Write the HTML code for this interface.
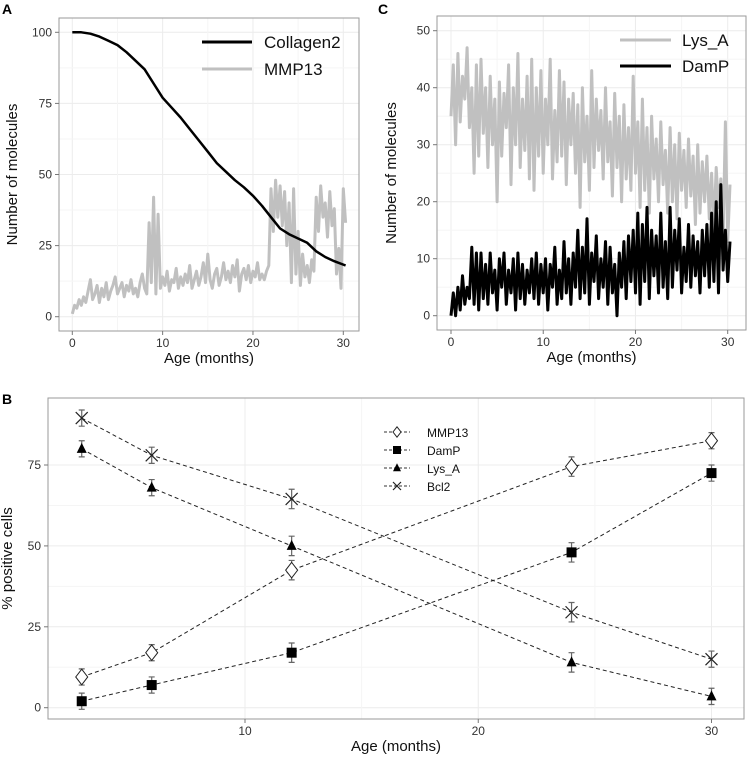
<!DOCTYPE html>
<html><head><meta charset="utf-8"><style>
html,body{margin:0;padding:0;background:#fff;}
svg{display:block;font-family:"Liberation Sans",sans-serif;}
</style></head><body>
<svg id="fig" width="750" height="760" viewBox="0 0 750 760" xmlns="http://www.w3.org/2000/svg"></svg>
<script>
// ---- Panel A data ----
const aCollagenX = [0,1,2,3,4,5,6,7,8,9,10,11,12,13,14,15,16,17,18,19,20,21,22,23,24,25,26,27,28,29,30.25];
const aCollagen = [100,100,99.5,98.5,97,95.5,93,90,87,82,77,73.5,70,66,62,58,54,51,48,45.5,42.5,39,35,31,29,27.5,26,23,21,19.5,18];
const aMMP13 = [1,4,3,6,4,7,5,9,13,6,8,11, 5,10,7,12,6,9,11,14,8,10,12,7, 11,9,13,8,10,7,12,15,10,8,33,12,
 42,8,36,10,14,11,16,9,13,12,17,10, 14,11,15,12,18,10,13,16,11,14,19,12, 22,13,10,15,17,11,14,19,13,16,12,18,
 14,20,9,15,17,13,18,12,16,14,19,13, 15,13,16,18,45,30,48,35,46,32,44,25, 40,12,45,15,30,11,22,14,18,12,20,16,
 42,30,46,35,40,28,44,32,38,15,24,10, 45,33];
// ---- Panel C data ----
const cLysA = [35,44,30,46,34,42,38,47,33,40,25,44, 28,45,32,40,26,42,30,38,20,41,28,39, 33,44,23,40,30,46,26,38,29,42,24,45,
 22,40,28,43,25,38,30,45,24,36,27,43, 28,41,23,38,30,39,25,37,19,40,27,35, 22,43,26,38,29,36,24,40,27,34,21,39,
 26,35,20,37,24,33,22,42,25,34,19,38, 22,33,18,35,24,31,20,34,23,29,18,33, 20,30,17,32,22,29,19,31,21,28,16,30,
 18,27,20,28,17,25,15,26,19,24,14,34, 13,23];
const cDamP = [0,4,0,5,1,7,2,5,3,12,2,11, 1,11,3,9,2,11,4,8,1,10,5,11, 2,8,4,10,1,11,3,9,2,8,4,10,
 3,11,2,9,4,10,1,9,5,12,2,8, 3,13,4,10,2,11,5,15,3,12,4,17, 2,11,6,14,3,10,5,13,2,12,4,9,
 0,11,5,13,3,14,6,15,4,18,2,16, 6,19,3,15,7,14,4,18,5,13,3,19, 5,15,8,17,4,12,6,16,5,14,7,13,
 4,15,7,16,5,18,6,20,4,23,8,15, 6,13];
const timeStep = 0.25;
// ---- Panel B data ----
const bAges = [3,6,12,24,30];
const bMMP13 = [9.5,17,42.5,74.5,82.5];
const bDamP = [2,7,17,48,72.5];
const bLysA = [80,68,50,14,3.5];
const bBcl2 = [89.5,78,64.5,29.5,15];
const bErr = [2.5,2.5,3,3,2.5];
const tickA_y = [0,25,50,75,100];
const tickC_y = [0,10,20,30,40,50];
const tickAC_x = [0,10,20,30];
const tickB_y = [0,25,50,75];
const tickB_x = [10,20,30];

const NS = "http://www.w3.org/2000/svg";
const svg = document.getElementById('fig');
function mk(tag, attrs, parent){
  const e = document.createElementNS(NS, tag);
  for (const k in attrs) e.setAttribute(k, attrs[k]);
  (parent||svg).appendChild(e);
  return e;
}
function lin(d0,d1,r0,r1){ return v => r0 + (v-d0)*(r1-r0)/(d1-d0); }

function panel(cfg){
  const g = mk('g', {});
  
  
  const x = cfg.x, y = cfg.y;
  cfg.xticks.forEach(t=>{ mk('line',{x1:x(t),x2:x(t),y1:cfg.top,y2:cfg.bottom,stroke:'#ececec','stroke-width':1},g); });
  cfg.yticks.forEach(t=>{ mk('line',{x1:cfg.left,x2:cfg.right,y1:y(t),y2:y(t),stroke:'#ececec','stroke-width':1},g); });
  for(let i=0;i<cfg.xticks.length-1;i++){const m=(cfg.xticks[i]+cfg.xticks[i+1])/2; mk('line',{x1:x(m),x2:x(m),y1:cfg.top,y2:cfg.bottom,stroke:'#f5f5f5'},g);}
  for(let i=0;i<cfg.yticks.length-1;i++){const m=(cfg.yticks[i]+cfg.yticks[i+1])/2; mk('line',{x1:cfg.left,x2:cfg.right,y1:y(m),y2:y(m),stroke:'#f5f5f5'},g);}
  const box = mk('rect',{x:cfg.left,y:cfg.top,width:cfg.right-cfg.left,height:cfg.bottom-cfg.top,fill:'none',stroke:'#9a9a9a','stroke-width':1},g);
  
  
  cfg.xticks.forEach(t=>{
    mk('line',{x1:x(t),x2:x(t),y1:cfg.bottom,y2:cfg.bottom+4,stroke:'#777'},g);
    const tx = mk('text',{x:x(t),y:cfg.bottom+16,'text-anchor':'middle','font-size':12,fill:'#333'},g);
    tx.textContent = t;
    
    
  });
  cfg.yticks.forEach(t=>{
    mk('line',{x1:cfg.left-4,x2:cfg.left,y1:y(t),y2:y(t),stroke:'#777'},g);
    const tx = mk('text',{x:cfg.left-7,y:y(t)+4,'text-anchor':'end','font-size':12,fill:'#333'},g);
    tx.textContent = t;
    
    
  });
  const xl = mk('text',{x:(cfg.left+cfg.right)/2,y:cfg.bottom+32,'text-anchor':'middle','font-size':15,fill:'#111'},g);
  xl.textContent = 'Age (months)';
  
  
  const cy=(cfg.top+cfg.bottom)/2;
  const yl = mk('text',{x:cfg.ylx,y:cy,'text-anchor':'middle','font-size':15,fill:'#111',transform:`rotate(-90 ${cfg.ylx} ${cy})`},g);
  yl.textContent = cfg.ylabel;
  
  
  const pl = mk('text',{x:cfg.plx,y:cfg.ply,'font-size':14,'font-weight':'bold',fill:'#000'},g);
  pl.textContent = cfg.letter;
  
  
  return g;
}
function series(g, xs, ys, x, y, color, w, name){
  const pts = ys.map((v,i)=>x(xs[i]).toFixed(1)+','+y(v).toFixed(1)).join(' ');
  const p = mk('polyline',{points:pts,fill:'none',stroke:color,'stroke-width':w,'stroke-linejoin':'round'},g);
  
  
}
const tIdx = arr => arr.map((_,i)=>i*timeStep);

// Panel A
const axA = lin(0,30,72.3,343.3), ayA = lin(0,100,316.7,32.3);
const gA = panel({name:'panel-a',x:axA,y:ayA,left:59,right:359,top:18,bottom:331,xticks:tickAC_x,yticks:tickA_y,ylabel:'Number of molecules',ylx:17,letter:'A',plx:2,ply:14});
series(gA, tIdx(aMMP13), aMMP13, axA, ayA, '#c0c0c0', 3, 'mmp13-line');
series(gA, aCollagenX, aCollagen, axA, ayA, '#000', 2.5, 'collagen2-line');
[['Collagen2','#000',42],['MMP13','#c0c0c0',69]].forEach(([n,c,yy])=>{
  const l = mk('line',{x1:202,x2:252,y1:yy,y2:yy,stroke:c,'stroke-width':3},gA);
  
  
  const t = mk('text',{x:264,y:yy+6,'font-size':17,fill:'#111'},gA);
  t.textContent = n;
  
  
});

// Panel C
const axC = lin(0,30,451,727.7), ayC = lin(0,50,315.7,30.7);
const gC = panel({name:'panel-c',x:axC,y:ayC,left:437,right:746,top:16,bottom:330,xticks:tickAC_x,yticks:tickC_y,ylabel:'Number of molecules',ylx:396,letter:'C',plx:378,ply:14});
series(gC, tIdx(cLysA), cLysA, axC, ayC, '#c0c0c0', 3, 'lys-a-line');
series(gC, tIdx(cDamP), cDamP, axC, ayC, '#000', 3, 'damp-line');
[['Lys_A','#c0c0c0',40],['DamP','#000',66]].forEach(([n,c,yy])=>{
  const l = mk('line',{x1:620,x2:671,y1:yy,y2:yy,stroke:c,'stroke-width':3},gC);
  
  
  const t = mk('text',{x:682,y:yy+6,'font-size':17,fill:'#111'},gC);
  t.textContent = n;
  
  
});

// Panel B
const axB = lin(10,30,245,711.5), ayB = lin(0,75,707.7,465);
const gB = panel({name:'panel-b',x:axB,y:ayB,left:48,right:744,top:398,bottom:719,xticks:tickB_x,yticks:tickB_y,ylabel:'% positive cells',ylx:12,letter:'B',plx:2,ply:404});
function marker(g, kind, cx, cy, s){
  let e;
  if(kind==='diamond') e = mk('path',{d:`M${cx} ${cy-s*1.3}L${cx+s} ${cy}L${cx} ${cy+s*1.3}L${cx-s} ${cy}Z`,fill:'#fff',stroke:'#222','stroke-width':1},g);
  else if(kind==='square') e = mk('rect',{x:cx-s,y:cy-s,width:2*s,height:2*s,fill:'#000'},g);
  else if(kind==='triangle') e = mk('path',{d:`M${cx} ${cy-s*1.2}L${cx+s} ${cy+s*0.8}L${cx-s} ${cy+s*0.8}Z`,fill:'#000'},g);
  else e = mk('path',{d:`M${cx-s} ${cy-s}L${cx+s} ${cy+s}M${cx+s} ${cy-s}L${cx-s} ${cy+s}`,stroke:'#222','stroke-width':1.2,fill:'none'},g);
  return e;
}
[['MMP13',bMMP13,'diamond'],['DamP',bDamP,'square'],['Lys_A',bLysA,'triangle'],['Bcl2',bBcl2,'x']].forEach(([n,vals,k],si)=>{
  const pts = vals.map((v,i)=>axB(bAges[i]).toFixed(1)+','+ayB(v).toFixed(1)).join(' ');
  const p = mk('polyline',{points:pts,fill:'none',stroke:'#222','stroke-width':1,'stroke-dasharray':'4,3'},gB);
  
  
  vals.forEach((v,i)=>{
    const cx=axB(bAges[i]), e=bErr[i];
    const eb = mk('path',{d:`M${cx} ${ayB(v+e)}V${ayB(v-e)}M${cx-3} ${ayB(v+e)}H${cx+3}M${cx-3} ${ayB(v-e)}H${cx+3}`,stroke:'#666','stroke-width':1.2,fill:'none'},gB);
    
    
    const m = marker(gB,k,cx,ayB(v),k==='x'?6:(k==='diamond'?6:5));
    
    
  });
  const ly = 432 + si*18;
  const ll = mk('line',{x1:384,x2:410,y1:ly,y2:ly,stroke:'#333','stroke-dasharray':'3,2'},gB);
  
  
  const lm = marker(gB,k,397,ly,4);
  
  
  const lt = mk('text',{x:427,y:ly+5,'font-size':12,fill:'#111'},gB);
  lt.textContent = n;
  
  
});
</script>
</body></html>
